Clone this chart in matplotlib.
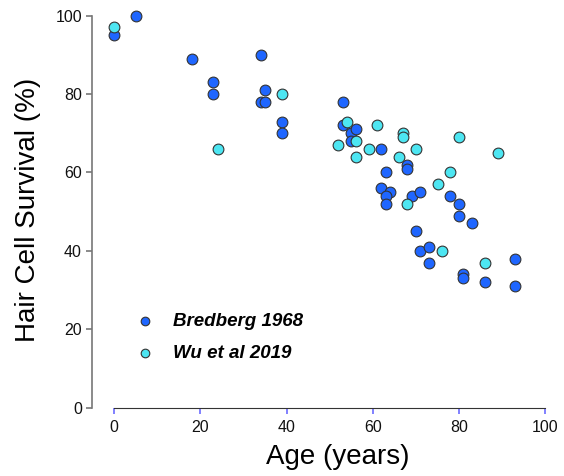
import matplotlib
matplotlib.use("Agg")
import matplotlib.pyplot as plt

plt.rcParams['font.family'] = ['Liberation Sans', 'DejaVu Sans']

# Datos Bredberg 1968 (edad, supervivencia %)
bredberg_edad = [0, 5, 18, 23, 23, 34, 35, 34, 35, 39, 39,
                 53, 53, 55, 56, 55, 62, 63, 62, 64, 63, 63, 68, 68, 69, 71,
                 70, 71, 73, 73, 78, 80, 80, 83, 81, 81, 86, 93, 93]
bredberg_surv = [95, 100, 89, 83, 80, 90, 81, 78, 78, 73, 70,
                 78, 72, 70, 71, 68, 66, 60, 56, 55, 54, 52, 62, 61, 54, 55,
                 45, 40, 41, 37, 54, 52, 49, 47, 34, 33, 32, 38, 31]

# Datos Wu et al 2019
wu_edad = [0, 24, 39, 52, 54, 56, 56, 59, 61, 66, 67, 67, 68, 70, 75, 76, 78, 80, 86, 89]
wu_surv = [97, 66, 80, 67, 73, 68, 64, 66, 72, 64, 70, 69, 52, 66, 57, 40, 60, 69, 37, 65]

ticks = [0, 20, 40, 60, 80, 100]

azul = '#1f66ff'
cian = '#4de6f2'

fig = plt.figure(figsize=(5.64, 4.76), dpi=100)
ax = fig.add_axes([0.1626, 0.1439, 0.8119, 0.8313])

ax.scatter(bredberg_edad, bredberg_surv, s=60, color=azul, edgecolor='#333333',
           linewidth=0.8, label='Bredberg 1968', clip_on=False, zorder=3)
ax.scatter(wu_edad, wu_surv, s=60, color=cian, edgecolor='#333333',
           linewidth=0.8, label='Wu et al 2019', clip_on=False, zorder=3)

ax.set_xlim(-5.2, 101)
ax.set_ylim(0, 101)
ax.set_xticks(ticks)
ax.set_yticks(ticks)

# ejes estilo R
for s in ['top', 'right']:
    ax.spines[s].set_visible(False)
ax.spines['bottom'].set_bounds(0, 100)
ax.spines['left'].set_bounds(0, 100)
ax.spines['bottom'].set_color('#333333')
ax.spines['left'].set_color('#777777')
ax.spines['left'].set_linewidth(1.2)
ax.tick_params(axis='x', colors='#6b6bff', length=4, width=1.2, pad=5, labelsize=11.5, labelcolor='#111111')
ax.tick_params(axis='y', colors='#777777', length=4, width=1.2, pad=3, labelsize=11.5, labelcolor='#111111')

ax.set_xlabel('Age (years)', fontsize=20)
ax.set_ylabel('Hair Cell Survival (%)', fontsize=20)
ax.xaxis.set_label_coords(0.537, -0.125)
ax.xaxis.label.set_va('center')
ax.yaxis.set_label_coords(-0.139, 0.5)
ax.yaxis.label.set_va('center')

leg = ax.legend(loc='upper left', bbox_to_anchor=(0.038, 0.283), frameon=False,
                prop={'weight': 'bold', 'style': 'italic', 'size': 13.5},
                handletextpad=0.5, labelspacing=0.82, markerscale=0.8)

fig.savefig('out.png', dpi=100)
